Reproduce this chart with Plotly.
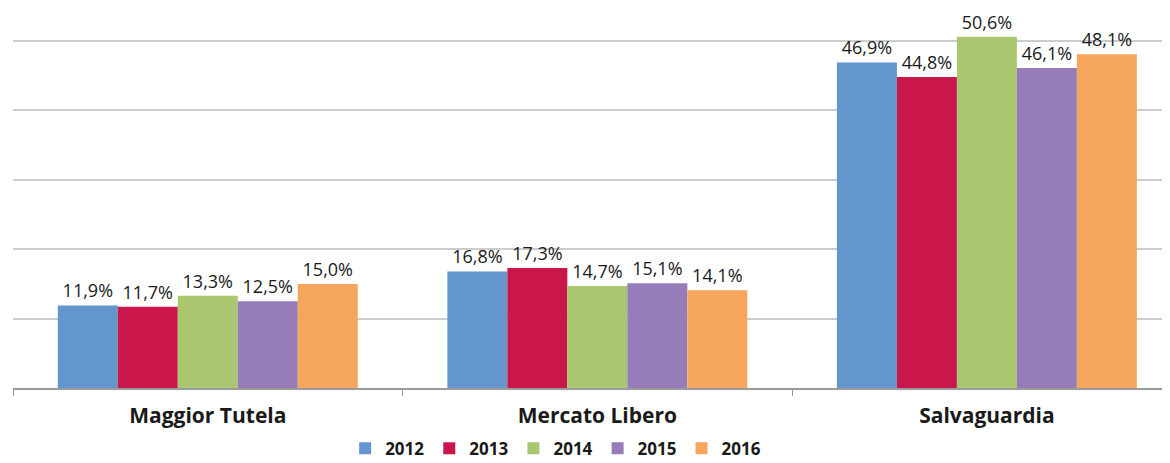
import plotly.graph_objects as go

# -----------------------------
# Data
# -----------------------------
categories = ["Maggior Tutela", "Mercato Libero", "Salvaguardia"]
years = ["2012", "2013", "2014", "2015", "2016"]
values_2012 = [11.9, 16.8, 46.9]
values_2013 = [11.7, 17.3, 44.8]
values_2014 = [13.3, 14.7, 50.6]
values_2015 = [12.5, 15.1, 46.1]
values_2016 = [15.0, 14.1, 48.1]

series = [values_2012, values_2013, values_2014, values_2015, values_2016]
colors = ["#6396CC", "#C9164B", "#AAC66F", "#967CB8", "#F6A65C"]

FONT = "Open Sans"

fig = go.Figure()
for year, vals, col in zip(years, series, colors):
    fig.add_bar(
        x=categories,
        y=vals,
        name=year,
        marker=dict(color=col, line=dict(width=0)),
        texttemplate="%{y:.1f}%",
        textposition="outside",
        textfont=dict(family=FONT, size=18, color="#1a1a1a"),
        cliponaxis=False,
    )

# page body has an 8px margin, so the figure is a bit smaller than the window
fig.update_layout(
    width=1162,
    height=455,
    barmode="group",
    bargap=0.23,
    bargroupgap=0,
    separators=",.",
    plot_bgcolor="white",
    paper_bgcolor="white",
    margin=dict(l=5, r=0, t=0, b=75, autoexpand=False),
    font=dict(family=FONT, color="#1a1a1a"),
    showlegend=True,
    legend=dict(
        orientation="h",
        x=0.469,
        xanchor="center",
        y=-0.16,
        yanchor="middle",
        font=dict(family=FONT, size=17, color="#1a1a1a", weight="bold"),
        itemwidth=30,
        traceorder="normal",
    ),
)

fig.update_xaxes(
    range=[-0.5, 2.47],
    automargin=False,
    showline=True,
    linecolor="#9a9a9a",
    linewidth=2,
    ticks="outside",
    tickson="boundaries",
    ticklen=6,
    tickcolor="#9a9a9a",
    ticklabelstandoff=8,
    tickfont=dict(family=FONT, size=21, color="#1a1a1a", weight="bold"),
    showgrid=False,
)

fig.update_yaxes(
    range=[0, 54.75],
    dtick=10,
    automargin=False,
    showticklabels=False,
    showgrid=True,
    gridcolor="#cccccc",
    gridwidth=1.5,
    zeroline=False,
    showline=False,
)

fig.write_html("out.html")
